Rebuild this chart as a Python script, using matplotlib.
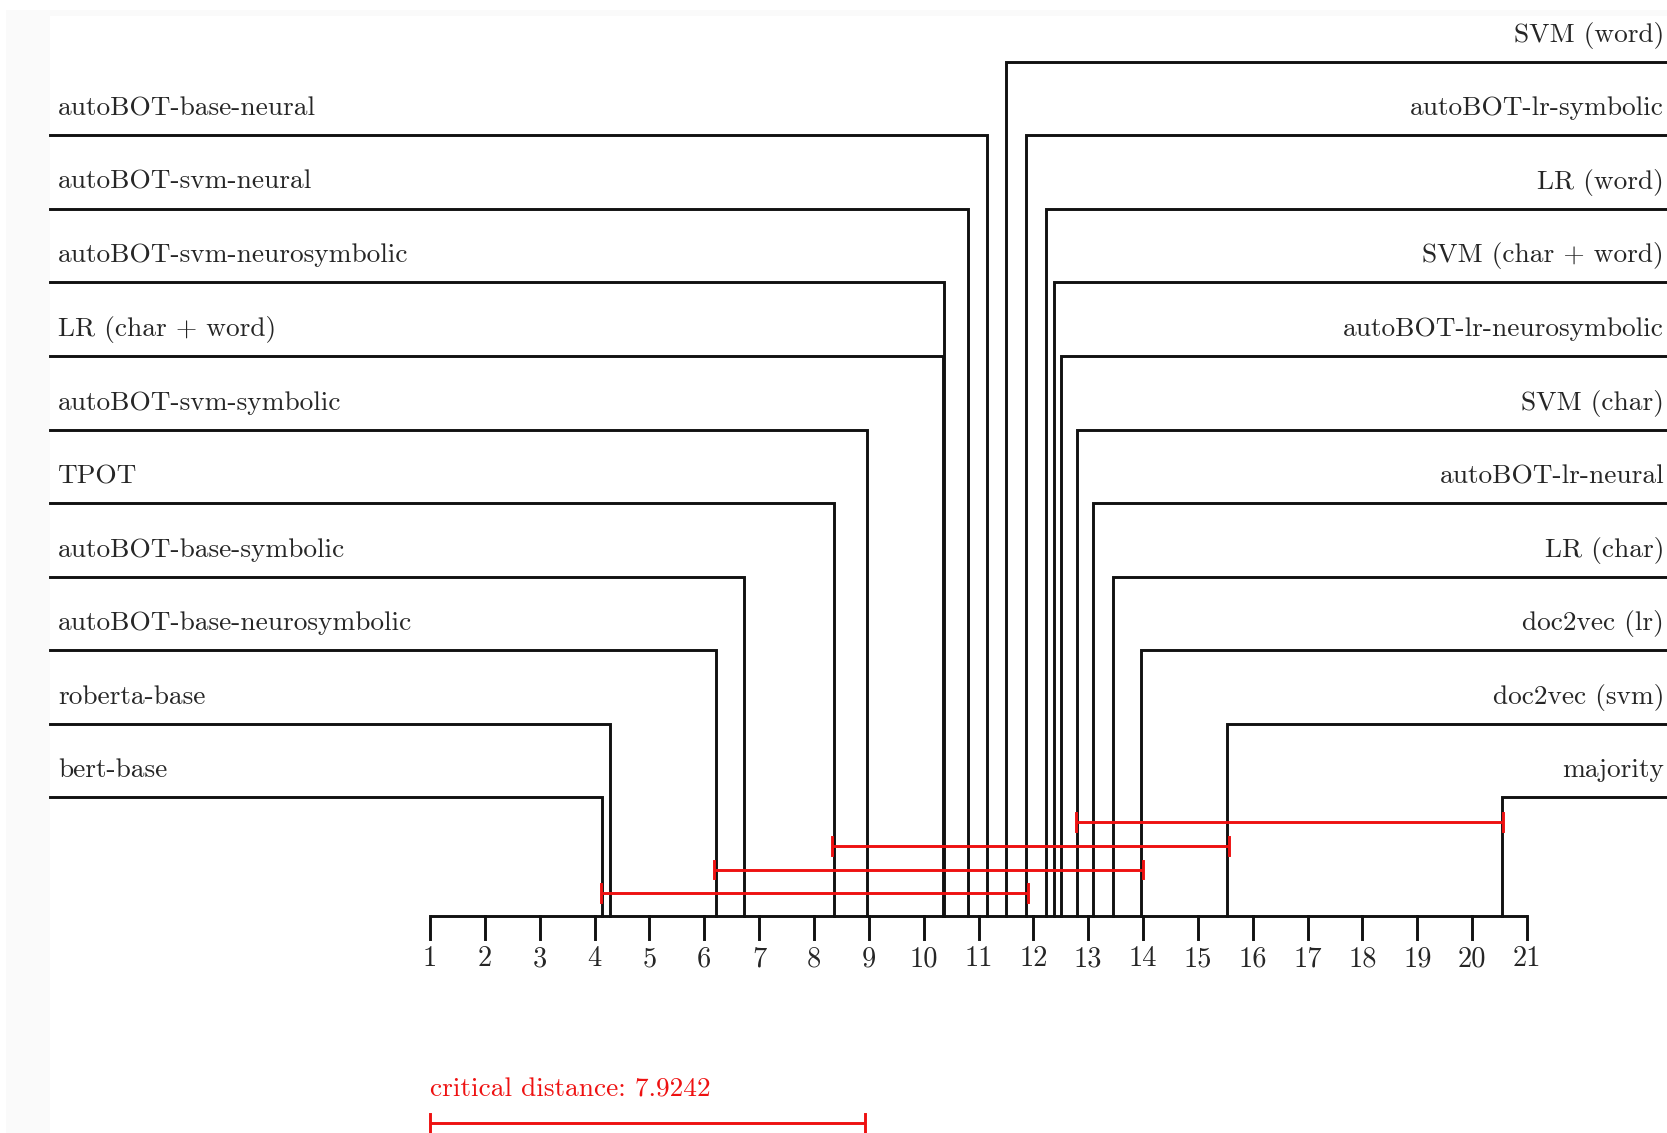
import matplotlib
matplotlib.use("Agg")
import matplotlib.pyplot as plt
from matplotlib.patches import Rectangle

# ---------------- data ----------------
left_methods = ["autoBOT-base-neural", "autoBOT-svm-neural", "autoBOT-svm-neurosymbolic",
                "LR (char + word)", "autoBOT-svm-symbolic", "TPOT", "autoBOT-base-symbolic",
                "autoBOT-base-neurosymbolic", "roberta-base", "bert-base"]
left_ranks = [11.16, 10.80, 10.37, 10.36, 8.96, 8.36, 6.72, 6.21, 4.28, 4.14]

right_methods = ["SVM (word)", "autoBOT-lr-symbolic", "LR (word)", "SVM (char + word)",
                 "autoBOT-lr-neurosymbolic", "SVM (char)", "autoBOT-lr-neural", "LR (char)",
                 "doc2vec (lr)", "doc2vec (svm)", "majority"]
right_ranks = [11.51, 11.87, 12.23, 12.37, 12.51, 12.80, 13.09, 13.45, 13.96, 15.53, 20.54]

# cliques (groups not significantly different), bottom to top
clique_start = ["bert-base", "autoBOT-base-neurosymbolic", "TPOT", "SVM (char)"]
clique_end = ["autoBOT-lr-symbolic", "doc2vec (lr)", "doc2vec (svm)", "majority"]

critical_distance = 7.9242
tick_values = list(range(1, 22))

# ---------------- layout ----------------
W, H = 1667, 1133
X0, PX = 430.0, 54.85           # pixel of rank 1, pixels per rank
Y0, PY = 61.7, 73.57            # pixel of first row, pixels per row

def rx(px):
    return 1 + (px - X0) / PX

def ry(py):
    return (py - Y0) / PY

FONT = "cmr10"
FS = 19.7
TICK_FS = 20.5
BLACK = "#111111"
TEXT = "#262626"
RED = "#ee1111"
LW = 2.1

fig = plt.figure(figsize=(W / 100, H / 100), dpi=100)
ax = fig.add_axes([0, 0, 1, 1])
ax.set_xlim(rx(0), rx(W))
ax.set_ylim(ry(H), ry(0))
ax.axis("off")

# faint page-edge shading of the screenshot
ax.add_patch(Rectangle((rx(6), ry(10)), rx(W) - rx(6), ry(16) - ry(10),
                       color="#fafafa", lw=0, zorder=0))
ax.add_patch(Rectangle((rx(6), ry(10)), rx(50) - rx(6), ry(H) - ry(10),
                       color="#fafafa", lw=0, zorder=0))

axis_row = ry(916.4)

# axis + ticks
ax.plot([tick_values[0], tick_values[-1]], [axis_row, axis_row], color=BLACK, lw=LW,
        solid_capstyle="butt", zorder=3)
tick_len = 23 / PY
for t in tick_values:
    ax.plot([t, t], [axis_row, axis_row + tick_len], color=BLACK, lw=LW, zorder=3)
    ax.text(t, ry(946), str(t), ha="center", va="top", fontsize=TICK_FS,
            family=FONT, color=TEXT)

label_off = 20 / PY
x_left_line = rx(50)
x_right_line = rx(W + 5)

# left methods
for i, (name, r) in enumerate(zip(left_methods, left_ranks)):
    row = i + 1
    ax.plot([x_left_line, r, r], [row, row, axis_row], color=BLACK, lw=LW,
            solid_joinstyle="miter", zorder=2)
    ax.text(rx(58), row - label_off, name, ha="left", va="baseline", fontsize=FS,
            family=FONT, color=TEXT)

# right methods
for i, (name, r) in enumerate(zip(right_methods, right_ranks)):
    row = i
    ax.plot([x_right_line, r, r], [row, row, axis_row], color=BLACK, lw=LW,
            solid_joinstyle="miter", zorder=2)
    ax.text(rx(1664), row - label_off, name, ha="right", va="baseline", fontsize=FS,
            family=FONT, color=TEXT)

# cliques
rank_of = dict(zip(left_methods + right_methods, left_ranks + right_ranks))
clique_rows = [ry(893.3), ry(869.5), ry(845.5), ry(821.8)]
pad = 0.03
cap = 9 / PY
for s, e, row in zip(clique_start, clique_end, clique_rows):
    a, b = rank_of[s] - pad, rank_of[e] + pad
    ax.plot([a, b], [row, row], color=RED, lw=LW, solid_capstyle="butt", zorder=4)
    for xx in (a, b):
        ax.plot([xx, xx], [row - cap, row + cap], color=RED, lw=LW, zorder=4)

# critical distance bar
cd_row = ry(1123.3)
ax.plot([1, 1 + critical_distance], [cd_row, cd_row], color=RED, lw=LW,
        solid_capstyle="butt", zorder=4)
for xx in (1, 1 + critical_distance):
    ax.plot([xx, xx], [cd_row - cap, cd_row + cap], color=RED, lw=LW, zorder=4)
ax.text(1, ry(1096.7), f"critical distance: {critical_distance}", ha="left",
        va="baseline", fontsize=FS, family=FONT, color=RED)

fig.savefig("out.png", dpi=100)
